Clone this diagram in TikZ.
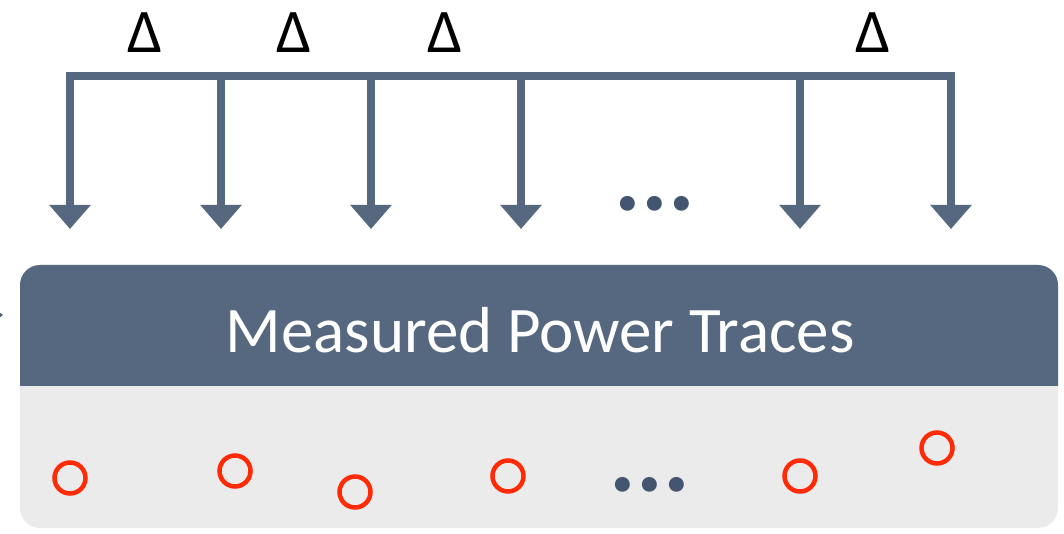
\documentclass[tikz,border=0pt]{standalone}
\usepackage{fontspec}
\setmainfont{Carlito}
\usetikzlibrary{arrows.meta}
\definecolor{slate}{HTML}{56687F}
\definecolor{dotslate}{HTML}{44566F}
\definecolor{panelgray}{HTML}{EBEBEB}
\definecolor{marker}{HTML}{FF2B06}
\tikzset{
  tick/.style={draw=slate, line width=8pt,
    -{Triangle[width=40pt,length=24pt]}},
  bracket/.style={draw=slate, line width=8pt},
  deltalabel/.style={inner sep=0pt, anchor=base, font=\fontsize{62}{62}\selectfont},
  sample/.style={circle, draw=marker, line width=4.5pt, minimum size=31pt, inner sep=0pt},
  ellip/.style={inner sep=0pt, anchor=base, text=dotslate, font=\fontsize{100}{100}\selectfont\bfseries},
}
\begin{document}
\begin{tikzpicture}[x=1pt,y=-1pt]
\useasboundingbox (0,0) rectangle (1064,534);

% sampling instants along the top bracket
\foreach \n/\x in {a/70,b/221,c/371,d/521,e/800,f/951}{
  \coordinate (top\n) at (\x,72);
  \coordinate (tip\n) at (\x,229);
}
\draw[bracket] (66,76) -- (955,76);
\foreach \n in {a,b,c,d,e,f}{
  \draw[tick] (top\n) -- (tip\n);
}

% spacing labels
\node[deltalabel] (d1) at (145,53) {Δ};
\node[deltalabel] (d2) at (294,53) {Δ};
\node[deltalabel] (d3) at (445,53) {Δ};
\node[deltalabel] (d4) at (873,53) {Δ};
\node[ellip] (gapTop) at (655,211) {...};

% incoming arrow tip at the left edge
\fill[slate] (-12,303) -- (3,315) -- (-12,327) -- cycle;

% panel of measured traces
\fill[panelgray, rounded corners=20pt] (20,265) rectangle (1058,528);
\begin{scope}
  \clip (20,265) rectangle (1058,385);
  \fill[slate, rounded corners=20pt] (20,265) rectangle (1058,528);
\end{scope}
\node[inner sep=0pt, anchor=base, text=white, font=\fontsize{65}{65}\selectfont] (title) at (540,352) {Measured Power Traces};

% sampled values
\node[sample] (s1) at (70,478) {};
\node[sample] (s2) at (235,471) {};
\node[sample] (s3) at (355,492) {};
\node[sample] (s4) at (508,476) {};
\node[sample] (s5) at (800,476) {};
\node[sample] (s6) at (937,448) {};
\node[ellip] (gapBottom) at (650,491) {...};
\end{tikzpicture}
\end{document}
